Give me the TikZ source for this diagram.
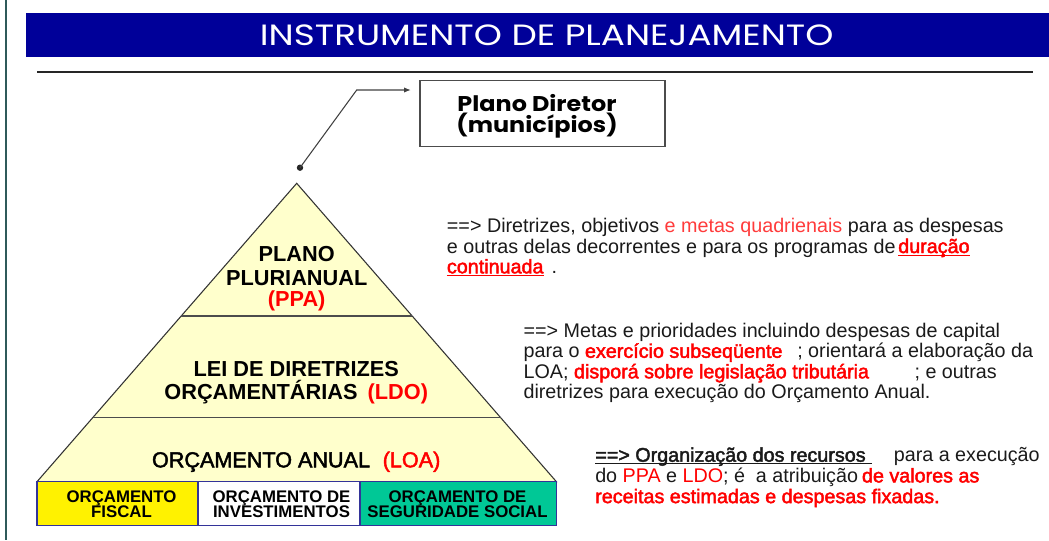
\documentclass[tikz,border=0pt]{standalone}
\usepackage{fontspec}
\setmainfont{Liberation Sans}
\newfontfamily\gothic{Poppins}
\newfontfamily\fb[FakeBold=2.2]{Liberation Sans}
\usetikzlibrary{arrows.meta}
\definecolor{bannerblue}{HTML}{000099}
\definecolor{cream}{HTML}{FFFFCC}
\definecolor{segreen}{HTML}{00C896}
\definecolor{boxblue}{HTML}{333399}
\definecolor{edgeteal}{HTML}{2F5A5A}
\definecolor{lightred}{HTML}{FF3B3B}
\definecolor{txtblack}{HTML}{1A1A1A}
\newcommand{\redb}[1]{\textcolor{red}{\fb #1}}
\newcommand{\myul}[1]{\underline{\smash{#1}}}
\begin{document}
\begin{tikzpicture}[x=0.75pt,y=-0.75pt,
  rtext/.style={anchor=base west, inner sep=0pt, text=txtblack, font=\fontsize{14.8}{15.3}\selectfont},
  ptext/.style={anchor=base, inner sep=0pt, font=\bfseries\fontsize{16.3}{17}\selectfont},
  btext/.style={anchor=base, inner sep=0pt, font=\bfseries\fontsize{12.6}{13}\selectfont},
  pdtext/.style={anchor=base, inner sep=0pt, font=\gothic\bfseries\fontsize{16}{17}\selectfont},
  budget/.style={draw=boxblue, line width=1.1pt},
  divider/.style={draw=black!70, line width=1.1pt}]
\useasboundingbox (0,0) rectangle (1049,540);
% left edge line
\fill[edgeteal] (4.5,0) rectangle (7,540);
% banner
\fill[bannerblue] (26,12.7) rectangle (1049,56.7);
\node[anchor=base, inner sep=0pt, text=white, font=\gothic\fontsize{22}{24}\selectfont] (title) at (546.7,45) {\scalebox{1.22}[1]{INSTRUMENTO DE PLANEJAMENTO}};
% rule
\draw[line width=1.5pt, black!85] (37,72) -- (1033,72);
% Plano Diretor box
\node[draw=black!70, line width=1pt, minimum width=183.75pt, minimum height=49.5pt, inner sep=0pt] (pd) at (542.5,113.7) {};
\node[pdtext] (pd1) at (537,111.7) {\scalebox{1.12}[1]{Plano Diretor}};
\node[pdtext] (pd2) at (537,132) {\scalebox{1.12}[1]{(municípios)}};
\coordinate (dot) at (300,167.7);
\coordinate (bend) at (356.7,90);
\coordinate (tip) at (410.7,90);
\fill[black!85] (dot) circle (3.2);
\draw[black!75, line width=0.8pt, -{Latex[length=5pt,width=4pt]}] (dot) -- (bend) -- (tip);
% pyramid
\coordinate (apex) at (296.7,183.3);
\coordinate (bl) at (37,481.7);
\coordinate (br) at (556.4,481.7);
\filldraw[fill=cream, draw=black!80, line width=0.8pt] (bl) -- (apex) -- (br) -- cycle;
\coordinate (d1l) at (181.2,316);
\coordinate (d1r) at (412.2,316);
\coordinate (d2l) at (92.7,417.7);
\coordinate (d2r) at (500.7,417.7);
\draw[divider] (d1l) -- (d1r);
\draw[divider] (d2l) -- (d2r);
\node[ptext] (ppa1) at (296.7,261.7) {PLANO};
\node[ptext] (ppa2) at (296.7,285) {PLURIANUAL};
\node[ptext, text=red] (ppa3) at (296.7,306.7) {(PPA)};
\node[ptext] (ldo1) at (296.2,376) {LEI DE DIRETRIZES};
\node[ptext] (ldo2) at (296.2,399.3) {ORÇAMENTÁRIAS\hspace{3pt} \textcolor{red}{(LDO)}};
\node[anchor=base, inner sep=0pt, font=\fb\fontsize{16.2}{18}\selectfont] (loa) at (296.2,467.3) {ORÇAMENTO ANUAL\hspace{5pt} \textcolor{red}{(LOA)}};
% budget boxes
\filldraw[budget, fill=yellow] (37,481.7) rectangle (198,525.7);
\filldraw[budget, fill=white] (198,481.7) rectangle (360,525.7);
\filldraw[budget, fill=segreen] (360,481.7) rectangle (556.4,525.7);
\node[btext] (of1) at (121.5,502) {ORÇAMENTO};
\node[btext] (of2) at (121.5,517) {FISCAL};
\node[btext] (oi1) at (281.5,502) {ORÇAMENTO DE};
\node[btext] (oi2) at (281.5,517) {INVESTIMENTOS};
\node[btext] (os1) at (457.5,502) {ORÇAMENTO DE};
\node[btext] (os2) at (457.5,517) {SEGURIDADE SOCIAL};
% right texts
\node[rtext] (a1) at (446.7,232.3) {==> Diretrizes, objetivos \textcolor{lightred}{e metas quadrienais} para as despesas};
\node[rtext] (a2) at (446.7,253) {e outras delas decorrentes e para os programas de\hspace{2pt}\redb{\myul{duração}}};
\node[rtext] (a3) at (446.7,273.3) {\redb{\myul{continuada}}\hspace{6pt}.};
\node[rtext] (b1) at (523.3,337.3) {==> Metas e prioridades incluindo despesas de capital};
\node[rtext] (b2) at (523.3,357.8) {para o \redb{exercício subseqüente}\hspace{7pt} ; orientará a elaboração da};
\node[rtext] (b3) at (523.3,378.3) {LOA; \redb{disporá sobre legislação tributária}\hspace{30pt} ; e outras};
\node[rtext] (b4) at (523.3,398.6) {diretrizes para execução do Orçamento Anual.};
\node[rtext] (c1) at (595,461.7) {{\fb\myul{==> Organização dos recursos\hspace{5pt}}}\hspace{12pt} para a execução};
\node[rtext] (c2) at (595,482.4) {do \textcolor{red}{PPA} e \textcolor{red}{LDO}; é\hspace{4pt} a atribuição\hspace{3pt}\redb{de valores as}};
\node[rtext] (c3) at (595,503.1) {\redb{receitas estimadas e despesas fixadas.}};
\end{tikzpicture}
\end{document}
